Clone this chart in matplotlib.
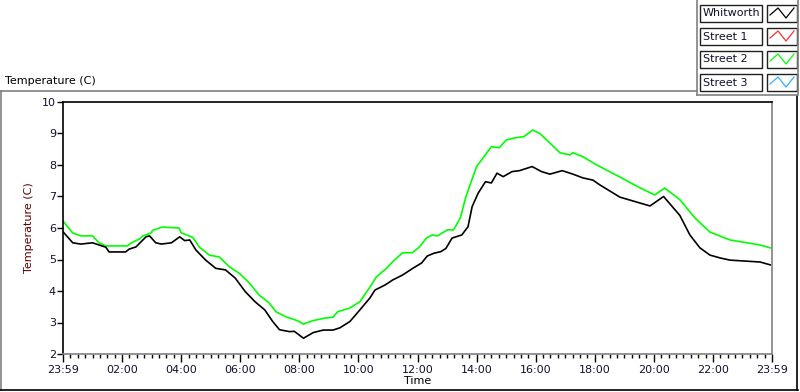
import numpy as np
import matplotlib
matplotlib.use('Agg')
import matplotlib.pyplot as plt
from matplotlib.lines import Line2D
from matplotlib.patches import Rectangle

# hours after 23:59 (previous day) and temperatures
whit_h = [0.0, 0.33, 0.6, 1.0, 1.45, 1.56, 2.12, 2.24, 2.47, 2.81, 2.93, 3.14, 3.33, 3.67, 3.95, 4.12, 4.29, 4.5, 4.83, 5.17, 5.5, 5.83, 6.17, 6.5, 6.83, 7.1, 7.33, 7.67, 7.83, 8.14, 8.47, 8.81, 9.14, 9.37, 9.71, 10.05, 10.39, 10.56, 10.9, 11.16, 11.5, 11.84, 12.14, 12.33, 12.56, 12.79, 12.96, 13.17, 13.5, 13.71, 13.85, 14.05, 14.3, 14.5, 14.69, 14.9, 15.2, 15.45, 15.88, 16.2, 16.48, 16.9, 17.26, 17.6, 17.94, 18.17, 18.85, 19.87, 20.33, 20.88, 21.22, 21.56, 21.9, 22.24, 22.58, 23.6, 23.94]
whit_t = [5.88, 5.53, 5.49, 5.53, 5.39, 5.24, 5.24, 5.33, 5.4, 5.72, 5.75, 5.53, 5.49, 5.53, 5.72, 5.6, 5.62, 5.3, 4.98, 4.72, 4.67, 4.41, 3.98, 3.66, 3.4, 3.03, 2.77, 2.71, 2.72, 2.5, 2.68, 2.76, 2.76, 2.83, 3.03, 3.4, 3.78, 4.03, 4.19, 4.35, 4.51, 4.72, 4.89, 5.11, 5.2, 5.25, 5.35, 5.68, 5.78, 6.04, 6.68, 7.1, 7.47, 7.43, 7.74, 7.63, 7.79, 7.82, 7.95, 7.79, 7.71, 7.82, 7.71, 7.59, 7.52, 7.37, 6.98, 6.7, 7.0, 6.4, 5.78, 5.37, 5.14, 5.05, 4.98, 4.92, 4.83]

st2_h = [0.0, 0.33, 0.6, 1.0, 1.22, 1.45, 1.56, 2.17, 2.3, 2.58, 2.71, 3.0, 3.02, 3.36, 3.93, 4.0, 4.4, 4.61, 4.95, 5.29, 5.63, 5.97, 6.31, 6.64, 6.98, 7.21, 7.55, 7.93, 8.14, 8.47, 8.81, 9.14, 9.3, 9.71, 10.05, 10.4, 10.61, 10.95, 11.16, 11.49, 11.83, 12.07, 12.3, 12.5, 12.67, 13.01, 13.22, 13.45, 13.64, 14.0, 14.5, 14.77, 15.0, 15.28, 15.6, 15.9, 16.14, 16.48, 16.82, 17.16, 17.26, 17.6, 18.07, 18.85, 19.48, 20.03, 20.37, 20.88, 21.39, 21.9, 22.58, 23.6, 23.94]
st2_t = [6.22, 5.84, 5.75, 5.75, 5.53, 5.43, 5.43, 5.43, 5.52, 5.65, 5.75, 5.85, 5.92, 6.03, 6.0, 5.85, 5.7, 5.4, 5.14, 5.08, 4.77, 4.56, 4.25, 3.87, 3.62, 3.34, 3.18, 3.06, 2.95, 3.06, 3.13, 3.17, 3.34, 3.46, 3.66, 4.14, 4.45, 4.72, 4.93, 5.21, 5.22, 5.4, 5.68, 5.78, 5.75, 5.94, 5.94, 6.32, 7.0, 7.95, 8.58, 8.55, 8.79, 8.86, 8.9, 9.11, 9.0, 8.7, 8.39, 8.32, 8.39, 8.26, 8.0, 7.62, 7.3, 7.05, 7.27, 6.9, 6.32, 5.87, 5.62, 5.46, 5.37]

legend_names = ['Whitworth', 'Street 1', 'Street 2', 'Street 3']
legend_colors = ['#000000', '#ff3030', '#00ff00', '#30b0ff']

y_ticks = [2, 3, 4, 5, 6, 7, 8, 9, 10]
x_ticks = [0, 2, 4, 6, 8, 10, 12, 14, 16, 18, 20, 22, 24]
x_labels = ['23:59', '02:00', '04:00', '06:00', '08:00', '10:00', '12:00',
            '14:00', '16:00', '18:00', '20:00', '22:00', '23:59']

W, H = 800, 392
fig = plt.figure(figsize=(W / 100, H / 100), dpi=100)
fig.patch.set_facecolor('white')
plt.rcParams['font.family'] = ['DejaVu Sans']


def fx(px):
    return px / W


def fy(py):
    return 1 - py / H


ax = fig.add_axes([fx(63), fy(354), fx(772 - 63), (354 - 102) / H])
ax.plot(st2_h, st2_t, color=legend_colors[2], lw=1.2)
ax.plot(whit_h, whit_t, color=legend_colors[0], lw=1.2)
ax.set_xlim(0, 24)
ax.set_ylim(2, 10)

ax.spines['left'].set_color('black')
ax.spines['top'].set_color('black')
ax.spines['right'].set_color('#808080')
ax.spines['bottom'].set_color('#808080')
for s in ax.spines.values():
    s.set_linewidth(1.2)

ax.set_yticks(y_ticks)
ax.set_xticks(x_ticks)
ax.set_xticklabels(x_labels)
ax.set_xticks(np.arange(0, 24.01, 0.25), minor=True)
ax.tick_params(axis='both', labelsize=8, colors='black', labelcolor='#101030')
ax.tick_params(axis='y', length=4, width=1, pad=1)
ax.tick_params(axis='x', which='major', length=6, width=1, pad=2)
ax.tick_params(axis='x', which='minor', length=3, width=1)
ax.set_xlabel('Time', fontsize=8, labelpad=1)
ax.set_ylabel('Temperature (C)', fontsize=8, color='#600000', labelpad=6)

fig.text(fx(5), fy(81), 'Temperature (C)', fontsize=8, va='center', ha='left')

# outer frame of the chart panel
fl = dict(transform=fig.transFigure, lw=1.2)
fig.add_artist(Line2D([fx(0), fx(697)], [fy(91), fy(91)], color='#808080', **fl))
fig.add_artist(Line2D([fx(1), fx(1)], [fy(91), fy(390)], color='#808080', **fl))
fig.add_artist(Line2D([fx(0), fx(798)], [fy(390), fy(390)], color='black', **fl))
fig.add_artist(Line2D([fx(797), fx(797)], [fy(96), fy(390)], color='black', **fl))
fig.add_artist(Line2D([fx(697), fx(697)], [fy(0), fy(95)], color='#808080', **fl))
fig.add_artist(Line2D([fx(697), fx(797)], [fy(95), fy(95)], color='#808080', **fl))
fig.add_artist(Line2D([fx(798), fx(798)], [fy(0), fy(95)], color='#808080', **fl))

# legend panel
for i, (name, col) in enumerate(zip(legend_names, legend_colors)):
    top = 5 + i * 23
    fig.add_artist(Rectangle((fx(700), fy(top + 17)), fx(62), 17 / H,
                             transform=fig.transFigure, facecolor='white',
                             edgecolor='#202020', lw=1.0))
    fig.text(fx(703), fy(top + 8.5), name, fontsize=8, va='center', ha='left',
             color='#101030')
    fig.add_artist(Rectangle((fx(767), fy(top + 17)), fx(30), 17 / H,
                             transform=fig.transFigure, facecolor='white',
                             edgecolor='#202020', lw=1.0))
    zx = [770, 778, 786, 794]
    zy = [top + 10, top + 3, top + 13, top + 3]
    fig.add_artist(Line2D([fx(v) for v in zx], [fy(v) for v in zy],
                          transform=fig.transFigure, color=col, lw=0.9))

fig.savefig('out.png', dpi=100)
